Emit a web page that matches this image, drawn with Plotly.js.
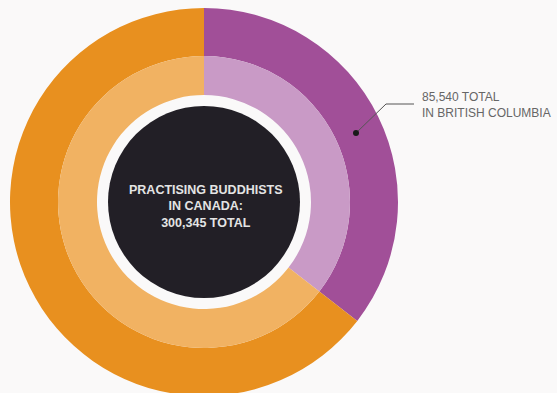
<!DOCTYPE html>
<html>
<head>
<meta charset="utf-8">
<script src="https://cdn.plot.ly/plotly-3.0.1.min.js"></script>
<style>
  html, body { margin: 0; padding: 0; overflow: hidden; background: #faf9f9; }
  #chart { width: 557px; height: 400px; }
</style>
</head>
<body>
<div id="chart"></div>
<script>
// ---- data ----
const categories = ['British Columbia', 'Rest of Canada'];
const drawnShares = [35.5, 64.5];          // share of the ring as drawn in the picture
const bcTotal = 85540;
const canadaTotal = 300345;
const outerColors = ['#a14f98', '#e8901f'];
const innerColors = ['#c99ac6', '#f1b262'];

// ---- layout helpers (pixel -> paper) ----
const W = 557, H = 400;
const px = x => x / W;
const py = y => (H - y) / H;
const cx = 204, cy = 202;
const rOuter = 194, rMid = 146, rInner = 107, rCore = 96;

function dom(r) {
  return { x: [px(cx - r), px(cx + r)], y: [py(cy + r), py(cy - r)] };
}

const fmt = n => n.toLocaleString('en-US');

const outer = {
  type: 'pie', labels: categories, values: drawnShares,
  sort: false, direction: 'clockwise', rotation: 0,
  hole: rMid / rOuter, domain: dom(rOuter),
  marker: { colors: outerColors, line: { width: 0 } },
  textinfo: 'none', hoverinfo: 'skip', showlegend: false
};
const inner = {
  type: 'pie', labels: categories, values: drawnShares,
  sort: false, direction: 'clockwise', rotation: 0,
  hole: rInner / rMid, domain: dom(rMid),
  marker: { colors: innerColors, line: { width: 0 } },
  textinfo: 'none', hoverinfo: 'skip', showlegend: false
};

const layout = {
  width: W, height: H,
  margin: { l: 0, r: 0, t: 0, b: 0 },
  paper_bgcolor: '#faf9f9',
  plot_bgcolor: '#faf9f9',
  showlegend: false,
  shapes: [
    { type: 'circle', xref: 'paper', yref: 'paper',
      x0: px(cx - rCore), x1: px(cx + rCore), y0: py(cy + rCore), y1: py(cy - rCore),
      fillcolor: '#221f26', line: { width: 0 } },
    { type: 'path', xref: 'paper', yref: 'paper',
      path: `M${px(356)},${py(133)} L${px(386)},${py(104)} L${px(414)},${py(104)}`,
      line: { color: '#555', width: 1 } },
    { type: 'circle', xref: 'paper', yref: 'paper',
      x0: px(353), x1: px(359), y0: py(136), y1: py(130),
      fillcolor: '#1a1a1a', line: { width: 0 } }
  ],
  annotations: [
    { xref: 'paper', yref: 'paper', x: px(cx + 1), y: py(206),
      xanchor: 'center', yanchor: 'middle', align: 'center', showarrow: false,
      text: '<b>PRACTISING BUDDHISTS<br>IN CANADA:<br>' + fmt(canadaTotal) + ' TOTAL</b>',
      font: { family: '"Liberation Sans", Arial, sans-serif', size: 12.5, color: '#e4e4e4' } },
    { xref: 'paper', yref: 'paper', x: px(420), y: py(105),
      xanchor: 'left', yanchor: 'middle', align: 'left', showarrow: false,
      text: fmt(bcTotal) + ' TOTAL<br>IN ' + categories[0].toUpperCase(),
      font: { family: '"Liberation Sans", Arial, sans-serif', size: 12, color: '#666' } }
  ]
};

Plotly.newPlot('chart', [outer, inner], layout, { displayModeBar: false, staticPlot: true });
</script>
</body>
</html>
